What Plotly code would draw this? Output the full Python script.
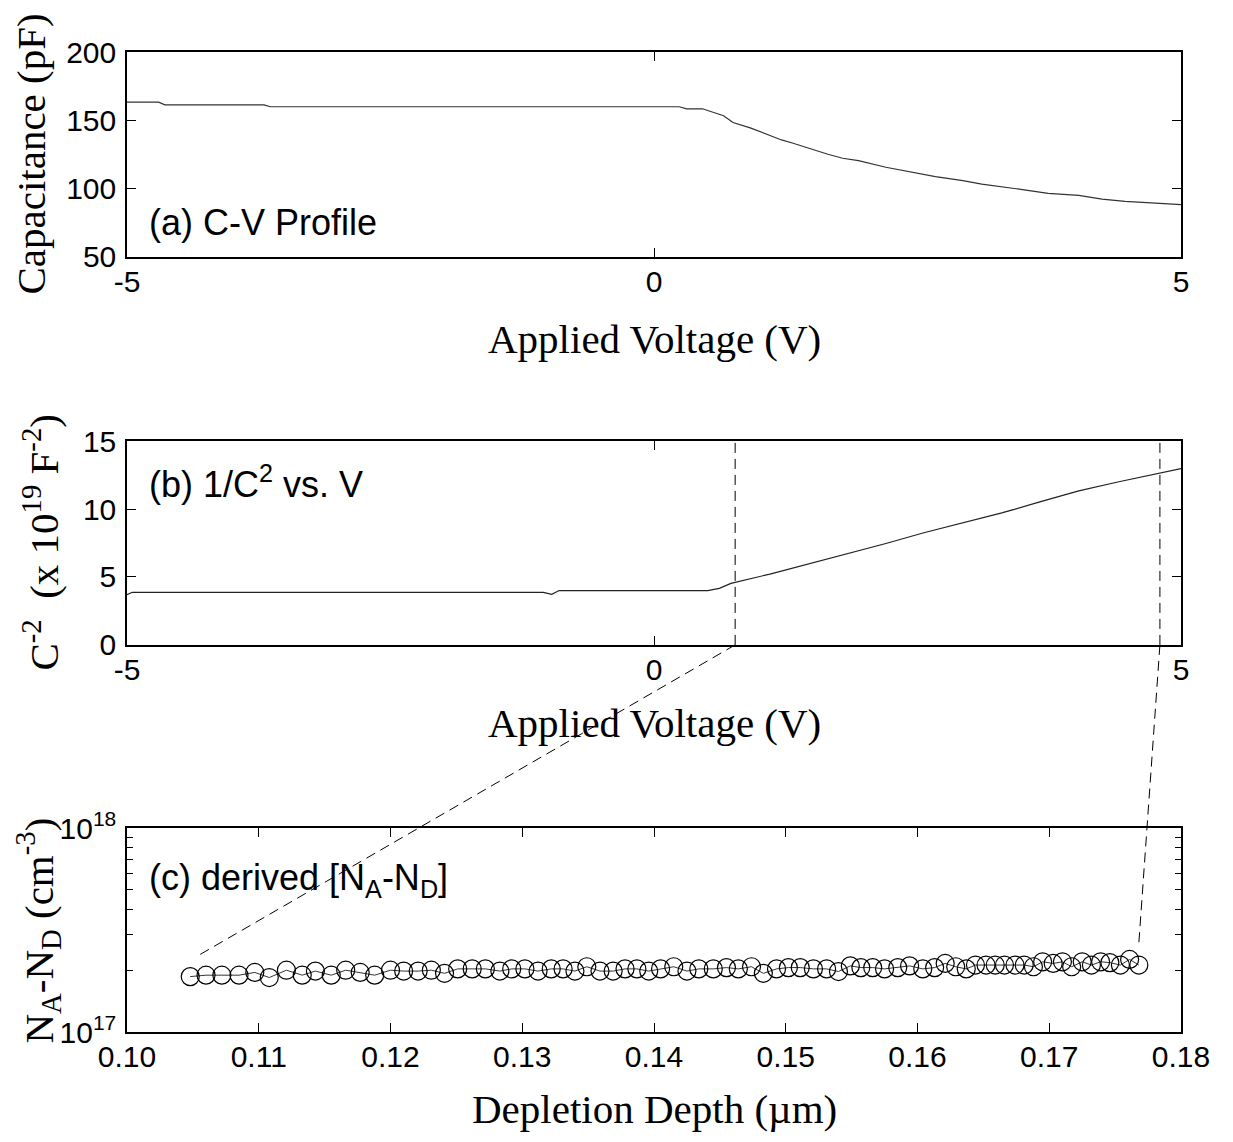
import math

import plotly.graph_objects as go

# (a) C-V profile
cv_voltage = [-5.0, -4.70, -4.64, -3.70, -3.64, 0.24, 0.31, 0.46, 0.66, 0.75, 0.92, 1.06, 1.21,
              1.32, 1.47, 1.65, 1.79, 1.94, 2.20, 2.42, 2.67, 2.93, 3.11, 3.48, 3.74, 4.03,
              4.25, 4.47, 4.65, 4.84, 5.0]
cv_capacitance = [163.3, 163.3, 161.3, 161.3, 159.9, 159.9, 158.4, 158.4, 153.3, 148.4, 144.2,
                  139.8, 135.6, 133.2, 129.5, 125.1, 122.2, 120.5, 115.6, 112.4, 108.7, 105.8,
                  103.3, 99.4, 96.5, 95.0, 92.3, 90.6, 89.6, 88.9, 88.2]

# (b) 1/C^2 in units of 1e19 F^-2
inv_voltage = [-5.0, -4.95, -1.05, -0.97, -0.90, 0.51, 0.62, 0.73, 1.10, 1.47, 1.83, 2.20, 2.56,
               2.93, 3.30, 3.66, 4.03, 4.40, 4.76, 5.0]
inv_c2 = [3.70, 3.87, 3.87, 3.72, 4.00, 4.00, 4.16, 4.53, 5.21, 5.95, 6.68, 7.46, 8.25, 8.98,
          9.71, 10.52, 11.33, 11.99, 12.55, 12.97]

# (c) derived N_A - N_D (units of 1e17 cm^-3) vs depletion depth (um)
depth_um = [0.1048, 0.1060, 0.1072, 0.1085, 0.1097, 0.1108, 0.1121, 0.1133, 0.1143, 0.1155,
            0.1166, 0.1177, 0.1188, 0.1200, 0.1210, 0.1221, 0.1231, 0.1241,
            0.1251, 0.1262, 0.1272, 0.1283, 0.1292, 0.1302, 0.1312, 0.1322, 0.1331, 0.1340,
            0.1349, 0.1359, 0.1369, 0.1378, 0.1387, 0.1396, 0.1405, 0.1415, 0.1425, 0.1434,
            0.1445, 0.1455, 0.1464, 0.1474, 0.1483, 0.1493, 0.1502, 0.1511, 0.1521, 0.1531,
            0.1540, 0.1549, 0.1557, 0.1566, 0.1575, 0.1585, 0.1594, 0.1604, 0.1613, 0.1621,
            0.1629, 0.1637,
            0.1644, 0.1652, 0.1659, 0.1666, 0.1674, 0.1681, 0.1688, 0.1695, 0.1703, 0.1710,
            0.1717, 0.1725, 0.1732, 0.1739, 0.1746, 0.1754, 0.1761, 0.1768]
doping_e17 = [1.87, 1.90, 1.90, 1.90, 1.96, 1.85, 2.01, 1.90, 1.99, 1.90, 2.01, 1.96, 1.90, 2.01,
              1.99, 1.99, 2.01, 1.94,
              2.04, 2.04, 2.04, 1.99, 2.04, 2.04, 1.99, 2.04, 2.04, 1.99, 2.09, 1.99, 1.99, 2.04,
              2.04, 1.99, 2.04, 2.09, 1.99, 2.04,
              2.04, 2.07, 2.04, 2.09, 1.94, 2.04, 2.07, 2.07, 2.04, 2.04, 1.98, 2.11, 2.07, 2.07,
              2.04, 2.07, 2.11, 2.04, 2.07, 2.17, 2.09, 2.04,
              2.13, 2.13, 2.13, 2.13, 2.13, 2.13, 2.09, 2.21, 2.17, 2.21, 2.09, 2.21, 2.13, 2.21,
              2.19, 2.13, 2.27, 2.13]

# fit window in (b) and where the dashed guides land in (c)
fit_voltage = [0.77, 4.80]
guide_depth = [0.1052, 0.1768]
guide_doping_e17 = [2.33, 2.73]

volt_ticks = [-5, 0, 5]
volt_labels = ["-5", "0", "5"]
depth_ticks = [0.10, 0.11, 0.12, 0.13, 0.14, 0.15, 0.16, 0.17, 0.18]

V_RANGE = [-5, 5]
D_RANGE = [0.10, 0.18]
DOM_A = [0.791, 1.0]
DOM_B = [0.395, 0.603]
DOM_C = [0.0, 0.208]

SANS = "Liberation Sans, Arial, sans-serif"
SERIF = "Liberation Serif, Times New Roman, serif"


def axis_style(**kw):
    style = dict(
        showline=True, linecolor="black", linewidth=1.5, mirror="ticks",
        ticks="inside", ticklen=9, tickwidth=1, tickcolor="black",
        showgrid=False, zeroline=False,
        tickfont=dict(family=SANS, size=30, color="black"),
    )
    style.update(kw)
    return style


def paper_y(dom, frac):
    return dom[0] + frac * (dom[1] - dom[0])


fig = go.Figure()
fig.add_trace(go.Scatter(x=cv_voltage, y=cv_capacitance, mode="lines",
                         line=dict(color="#333", width=1.2), xaxis="x", yaxis="y"))
fig.add_trace(go.Scatter(x=inv_voltage, y=inv_c2, mode="lines",
                         line=dict(color="#222", width=1.2), xaxis="x2", yaxis="y2"))
fig.add_trace(go.Scatter(x=depth_um, y=[v * 1e17 for v in doping_e17], mode="lines+markers",
                         line=dict(color="#333", width=1),
                         marker=dict(symbol="circle-open", size=18, color="black",
                                     line=dict(width=1.2, color="black")),
                         xaxis="x3", yaxis="y3"))

shapes = []
# vertical guides on the 1/C^2 panel
for v in fit_voltage:
    shapes.append(dict(type="line", xref="x2", yref="y2 domain", x0=v, x1=v, y0=0, y1=1,
                       line=dict(color="black", width=1, dash="10px,6px")))
# slanted guides from panel (b) down to panel (c)
for v, d, n in zip(fit_voltage, guide_depth, guide_doping_e17):
    x0 = (v - V_RANGE[0]) / (V_RANGE[1] - V_RANGE[0])
    x1 = (d - D_RANGE[0]) / (D_RANGE[1] - D_RANGE[0])
    y1 = paper_y(DOM_C, math.log10(n * 1e17) - 17)
    shapes.append(dict(type="line", xref="paper", yref="paper", x0=x0, x1=x1, y0=DOM_B[0], y1=y1,
                       line=dict(color="black", width=1, dash="10px,6px")))

label_font = dict(family=SANS, size=36, color="black")
title_font = dict(family=SERIF, size=41, color="black")
annotations = [
    dict(text="(a) C-V Profile", xref="x domain", yref="y domain", x=0.019, y=0.166,
         xanchor="left", yanchor="middle", showarrow=False, font=label_font),
    dict(text="(b) 1/C<sup>2</sup> vs. V", xref="x2 domain", yref="y2 domain", x=0.019, y=0.80,
         xanchor="left", yanchor="middle", showarrow=False, font=label_font),
    dict(text="(c) derived [N<sub>A</sub>-N<sub>D</sub>]", xref="x3 domain", yref="y3 domain",
         x=0.019, y=0.745, xanchor="left", yanchor="middle", showarrow=False, font=label_font),
    # axis titles
    dict(text="Applied Voltage (V)", xref="x domain", yref="y domain", x=0.5, y=0,
         yshift=-82, xanchor="center", yanchor="middle", showarrow=False, font=title_font),
    dict(text="Applied Voltage (V)", xref="x2 domain", yref="y2 domain", x=0.5, y=0,
         yshift=-78, xanchor="center", yanchor="middle", showarrow=False, font=title_font),
    dict(text="Depletion Depth (\u00b5m)", xref="x3 domain", yref="y3 domain", x=0.5, y=0,
         yshift=-77, xanchor="center", yanchor="middle", showarrow=False, font=title_font),
    dict(text="Capacitance (pF)", xref="paper", yref="y domain", x=-0.091, y=0.5,
         textangle=-90, xanchor="center", yanchor="middle", showarrow=False, font=title_font),
    dict(text="C<sup>-2</sup>&nbsp;&nbsp;(x 10<sup>19</sup> F<sup>-2</sup>)", xref="paper",
         yref="y2 domain", x=-0.082, y=0.5, textangle=-90, xanchor="center", yanchor="middle",
         showarrow=False, font=title_font),
    dict(text="N<sub>A</sub>-N<sub>D</sub> (cm<sup>-3</sup>)", xref="paper", yref="y3 domain",
         x=-0.084, y=0.5, textangle=-90, xanchor="center", yanchor="middle", showarrow=False,
         font=title_font),
]

# the page body adds an 8px margin, so the figure is sized to fit the 1233x1142 window
fig.update_layout(
    width=1217, height=1126,
    margin=dict(l=119, r=44, t=44, b=102),
    paper_bgcolor="white", plot_bgcolor="white",
    font=dict(family=SANS, color="black"),
    showlegend=False,
    xaxis=axis_style(domain=[0, 1], anchor="y", range=V_RANGE, tickvals=volt_ticks,
                     ticktext=volt_labels, ticklabelstandoff=-3),
    yaxis=axis_style(domain=DOM_A, anchor="x", range=[50, 200], tickvals=[50, 100, 150, 200],
                     ticklabelstandoff=3),
    xaxis2=axis_style(domain=[0, 1], anchor="y2", range=V_RANGE, tickvals=volt_ticks,
                      ticktext=volt_labels, ticklabelstandoff=-3),
    yaxis2=axis_style(domain=DOM_B, anchor="x2", range=[0, 15], tickvals=[0, 5, 10, 15],
                      ticklabelstandoff=3),
    xaxis3=axis_style(domain=[0, 1], anchor="y3", range=D_RANGE, tickvals=depth_ticks,
                      tickformat=".2f", ticklabelstandoff=-3),
    yaxis3=axis_style(domain=DOM_C, anchor="x3", type="log", range=[17, 18],
                      tickvals=[1e17, 1e18], ticktext=["10<sup>17</sup>", "10<sup>18</sup>"],
                      ticklabelstandoff=3,
                      minor=dict(ticks="inside", ticklen=6, tickcolor="black", tickwidth=1,
                                 tickvals=[k * 1e17 for k in range(2, 10)])),
    shapes=shapes,
    annotations=annotations,
)

fig.write_html("out.html")
